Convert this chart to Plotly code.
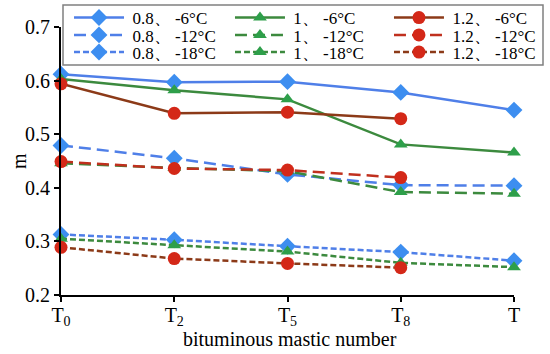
import plotly.graph_objects as go

categories = ["T<sub>0</sub>", "T<sub>2</sub>", "T<sub>5</sub>", "T<sub>8</sub>", "T"]

s08_6 = [0.612, 0.597, 0.598, 0.578, 0.545]
s08_12 = [0.479, 0.455, 0.425, 0.405, 0.404]
s08_18 = [0.313, 0.303, 0.291, 0.280, 0.264]
s1_6 = [0.603, 0.582, 0.565, 0.481, 0.466]
s1_12 = [0.446, 0.437, 0.431, 0.392, 0.389]
s1_18 = [0.305, 0.293, 0.281, 0.260, 0.252]
s12_6 = [0.594, 0.539, 0.541, 0.529]
s12_12 = [0.449, 0.436, 0.433, 0.419]
s12_18 = [0.289, 0.268, 0.259, 0.251]

blue_l, blue_m = "#4F7FE8", "#3D8EF0"
green_l, green_m = "#3C8A3E", "#2E9F4A"
brown_l, red_m = "#8C3A18", "#D42818"

# name, values, line colour, marker colour, symbol, dash
series = [
    ("0.8、 -6°C", s08_6, blue_l, blue_m, "diamond", "solid"),
    ("0.8、 -12°C", s08_12, blue_l, blue_m, "diamond", "12px,6px"),
    ("0.8、 -18°C", s08_18, blue_l, blue_m, "diamond", "6px,3px"),
    ("1、 -6°C", s1_6, green_l, green_m, "triangle-up", "solid"),
    ("1、 -12°C", s1_12, green_l, green_m, "triangle-up", "12px,6px"),
    ("1、 -18°C", s1_18, green_l, green_m, "triangle-up", "6px,3px"),
    ("1.2、 -6°C", s12_6, brown_l, red_m, "circle", "solid"),
    ("1.2、 -12°C", s12_12, "#C0301E", red_m, "circle", "12px,6px"),
    ("1.2、 -18°C", s12_18, brown_l, red_m, "circle", "6px,3px"),
]

font = "Liberation Serif"
legfont = dict(family=font, size=17, color="black")

col_x = [0.0177, 0.373, 0.724]
row_y = [1.1007, 1.036, 0.972]

fig = go.Figure()
legends = {}
for i, (name, vals, lc, mc, sym, dash) in enumerate(series):
    lg = "legend" if i == 0 else f"legend{i + 1}"
    col, row = divmod(i, 3)
    legends[lg] = dict(orientation="v", yanchor="top", xanchor="left",
                       x=col_x[col], y=row_y[row],
                       bgcolor="rgba(0,0,0,0)", borderwidth=0, font=legfont,
                       itemwidth=50, tracegroupgap=0)
    fig.add_trace(go.Scatter(
        x=list(range(len(vals))), y=vals, name="\u2009" + name,
        mode="lines+markers",
        line=dict(color=lc, width=2.5, dash=dash),
        marker=dict(color=mc, symbol=sym,
                    size={"diamond": 13, "triangle-up": 12, "circle": 13}[sym],
                    line=dict(width=0)),
        cliponaxis=False, legend=lg,
    ))

fig.update_layout(
    width=550, height=354,
    margin=dict(l=61, r=36, t=27, b=59, autoexpand=False),
    plot_bgcolor="white", paper_bgcolor="white",
    font=dict(family=font, size=20, color="black"),
    showlegend=True,
    shapes=[dict(type="rect", xref="paper", yref="paper",
                 x0=(63 - 61) / 453, x1=(543 - 61) / 453,
                 y0=(295 - 65) / 268, y1=(295 - 5) / 268,
                 line=dict(color="#808080", width=1.5),
                 fillcolor="white", layer="above")],
    annotations=[
        dict(text="bituminous mastic number", xref="paper", yref="paper",
             x=0.505, y=(295 - 339) / 268, xanchor="center", yanchor="middle",
             showarrow=False, font=dict(family=font, size=20)),
        dict(text="m", xref="paper", yref="paper", textangle=-90,
             x=(19 - 61) / 453, y=0.5, xanchor="center", yanchor="middle",
             showarrow=False, font=dict(family=font, size=20)),
    ],
    xaxis=dict(
        tickmode="array", tickvals=list(range(5)), ticktext=categories,
        range=[0, 4], showgrid=False, zeroline=False,
        showline=True, linecolor="black", linewidth=2,
        ticks="outside", ticklen=5, tickwidth=2, tickcolor="black",
        tickfont=dict(family=font, size=20), ticklabelstandoff=-4,
    ),
    yaxis=dict(
        range=[0.2, 0.7], tickvals=[0.2, 0.3, 0.4, 0.5, 0.6, 0.7],
        tickformat=".1f", showgrid=False, zeroline=False,
        showline=True, linecolor="black", linewidth=2,
        ticks="outside", ticklen=5, tickwidth=2, tickcolor="black",
        tickfont=dict(family=font, size=20),
    ),
)
fig.update_layout(**legends)

fig.write_html("out.html", config={"displayModeBar": False},
               post_script="document.body.style.margin='0';")
